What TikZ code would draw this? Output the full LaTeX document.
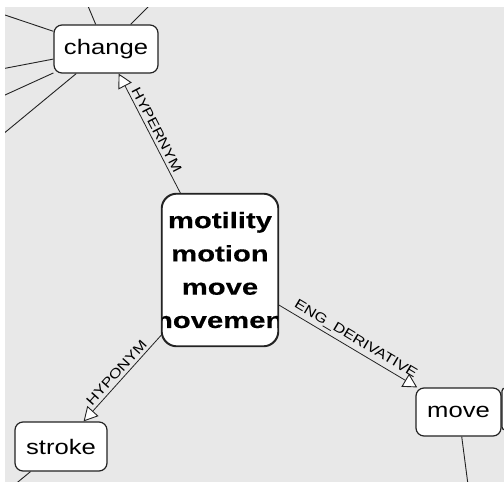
\documentclass[tikz,border=0pt]{standalone}
\usepackage{fontspec}
\newfontfamily\nodefont[FakeStretch=1.22]{Liberation Sans}
\newfontfamily\bignodefont[FakeStretch=1.3, FakeBold=0.3]{Liberation Sans Bold}
\usetikzlibrary{arrows.meta}
\definecolor{panel}{RGB}{232,232,232}
\definecolor{ink}{RGB}{35,35,35}
\begin{document}
\begin{tikzpicture}[x=1pt,y=-1pt,
  box/.style={draw=ink, line width=1.2pt, fill=white, rounded corners=8pt, inner sep=0pt,
    font=\nodefont\fontsize{21}{21}\selectfont},
  bigbox/.style={box, rounded corners=15pt},
  bigtext/.style={inner sep=0pt, align=center, font=\bignodefont\fontsize{22.5}{33.3}\selectfont},
  rel/.style={draw=ink, line width=0.8pt, -{Triangle[length=14pt,width=15pt,fill=white,line width=0.9pt]}},
  lbl/.style={font=\nodefont\fontsize{13.5}{13.5}\selectfont, inner sep=3pt, sloped, above},
  plain/.style={draw=ink, line width=0.9pt}]
\useasboundingbox (0,0) rectangle (504,482);
\fill[white] (0,0) rectangle (504,482);
\fill[panel] (5,7) rectangle (504,482);
\begin{scope}
\clip (5,7) rectangle (504,482);
% free ends of edges that leave the view
\coordinate (e1) at (-20,6.6);
\coordinate (e2) at (-20,73.1);
\coordinate (e3) at (-20,106.4);
\coordinate (e4) at (-20,153.1);
\coordinate (e5) at (77.1,-20);
\coordinate (e6) at (175,-20);
\coordinate (e7) at (-4,500);
\coordinate (e8) at (470,500);
% nodes
\node[box, minimum width=104pt, minimum height=48pt] (change) at (106,49) {change};
\node[box, minimum width=92pt, minimum height=49pt] (stroke) at (61,446.5) {stroke};
\node[box, minimum width=85pt, minimum height=48pt] (move) at (458.5,412) {move};
\node[box, rounded corners=3pt, minimum width=60pt, minimum height=42pt] (offbox) at (532,409) {};
\node[bigbox, minimum width=116pt, minimum height=152pt] (c) at (220,270) {};
% edges leaving the view
\draw[plain] (change) -- (e1);
\draw[plain] (change) -- (e2);
\draw[plain] (change) -- (e3);
\draw[plain] (change) -- (e4);
\draw[plain] (change) -- (e5);
\draw[plain] (change) -- (e6);
\draw[plain] (stroke) -- (e7);
\draw[plain] (move) -- (e8);
% relations
\draw[rel] (c) -- (change) node[lbl, midway] (l1) {HYPERNYM};
\draw[rel] (c) -- (stroke) node[lbl, midway] (l2) {HYPONYM};
\draw[rel] (c) -- (move) node[lbl, pos=0.52] (l3) {ENG\_DERIVATIVE};
% centre node text, clipped to its box
\begin{scope}
\clip[rounded corners=15pt] (c.south west) rectangle (c.north east);
\node[bigtext] (ctext) at (220,270) {motility\\motion\\move\\movement};
\end{scope}
\draw[draw=ink, line width=1.2pt, rounded corners=15pt] (c.south west) rectangle (c.north east);
\end{scope}
\end{tikzpicture}
\end{document}
